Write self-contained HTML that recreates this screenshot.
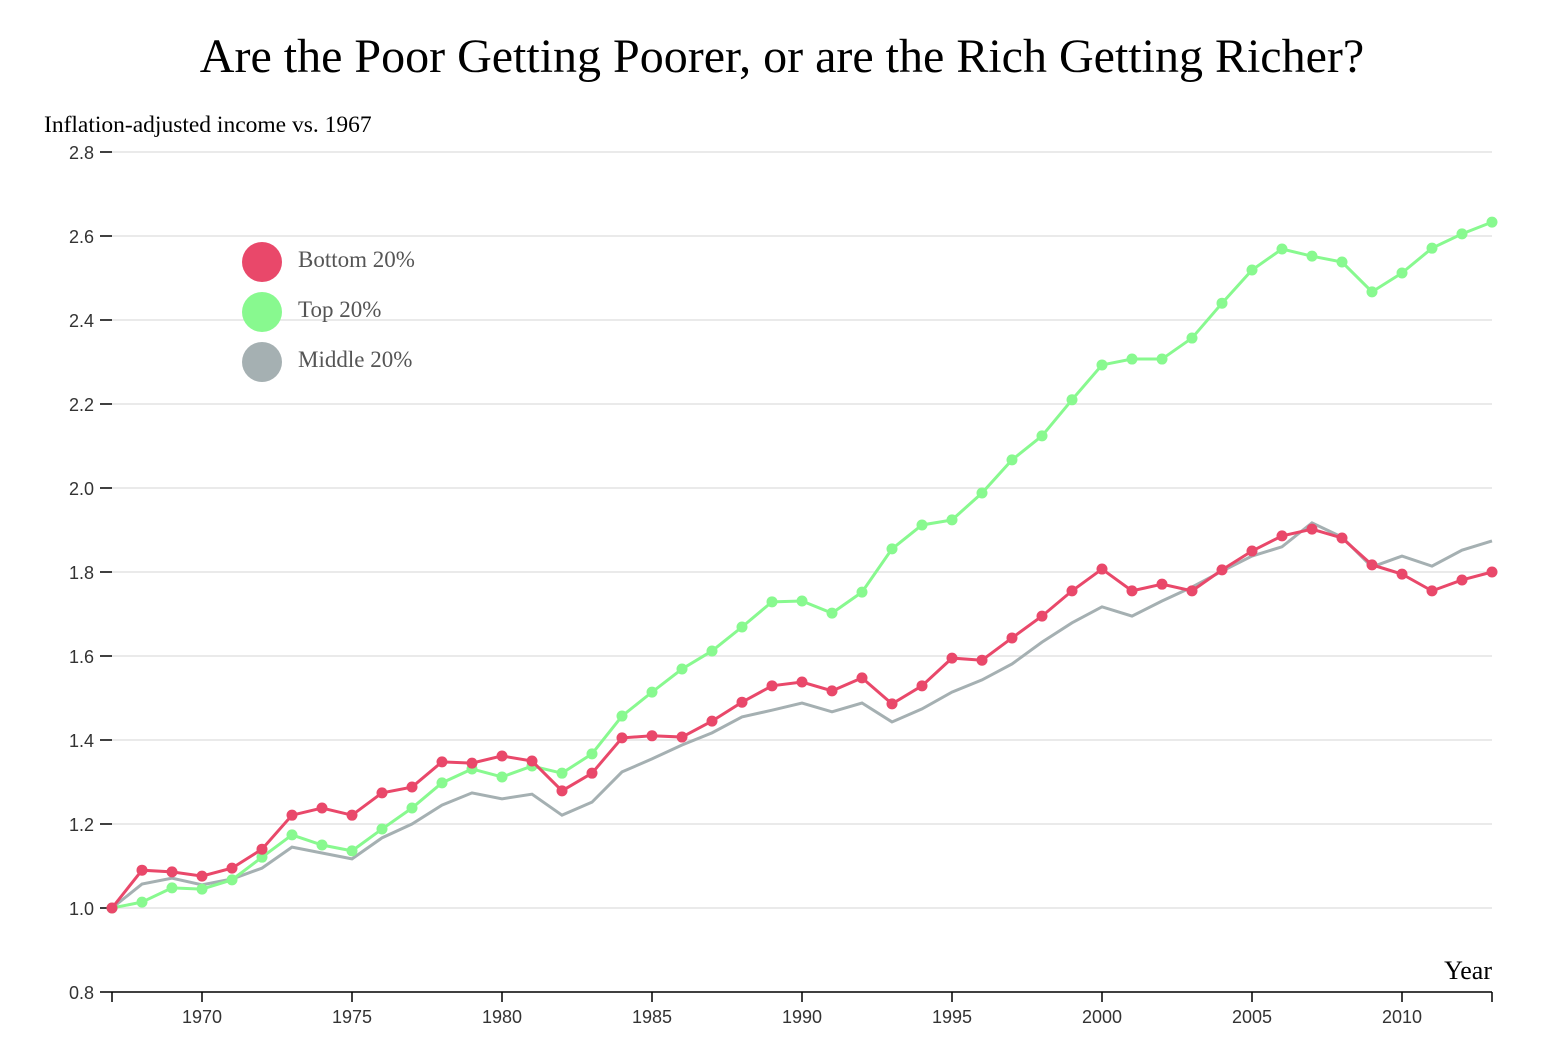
<!DOCTYPE html>
<html><head><meta charset="utf-8"><style>
body{margin:0;background:#fff;}
svg{display:block;font-family:"Liberation Sans",sans-serif;}
</style></head><body>
<svg id="chart" width="1564" height="1064">
<text x="782" y="72" text-anchor="middle" font-family="Liberation Serif,serif" font-size="48" fill="#000">Are the Poor Getting Poorer, or are the Rich Getting Richer?</text>
<text x="44" y="132" font-family="Liberation Serif,serif" font-size="23.5" fill="#000">Inflation-adjusted income vs. 1967</text>
<text x="1492" y="979" text-anchor="end" font-family="Liberation Serif,serif" font-size="26" fill="#000">Year</text>
<g id="grid"></g>
<g id="axes"></g>
<g id="series"></g>
<g id="legend"></g>
</svg>
<script>
const years=[];for(let y=1967;y<=2013;y++)years.push(y);
const bottomVals=[1.0,1.09,1.086,1.076,1.095,1.14,1.221,1.238,1.221,1.274,1.288,1.348,1.345,1.362,1.35,1.279,1.321,1.405,1.41,1.407,1.445,1.49,1.529,1.538,1.517,1.548,1.486,1.529,1.595,1.59,1.643,1.695,1.755,1.807,1.755,1.771,1.755,1.805,1.85,1.886,1.902,1.881,1.817,1.795,1.755,1.781,1.8];
const topVals=[1.0,1.014,1.048,1.045,1.067,1.121,1.174,1.15,1.136,1.188,1.238,1.298,1.331,1.312,1.338,1.321,1.367,1.457,1.514,1.569,1.612,1.669,1.729,1.731,1.702,1.752,1.855,1.912,1.924,1.988,2.067,2.124,2.21,2.293,2.307,2.307,2.357,2.44,2.519,2.569,2.552,2.538,2.467,2.512,2.571,2.605,2.633];
const middleVals=[1.0,1.057,1.071,1.055,1.069,1.095,1.145,1.131,1.117,1.167,1.2,1.245,1.274,1.26,1.271,1.221,1.252,1.324,1.355,1.388,1.417,1.455,1.471,1.488,1.467,1.488,1.443,1.474,1.514,1.543,1.581,1.633,1.679,1.717,1.695,1.731,1.764,1.802,1.838,1.86,1.917,1.883,1.812,1.838,1.814,1.852,1.874];
const yTicks=[0.8,1.0,1.2,1.4,1.6,1.8,2.0,2.2,2.4,2.6,2.8];
const xTicks=[1970,1975,1980,1985,1990,1995,2000,2005,2010];
const legendLabels=["Bottom 20%","Top 20%","Middle 20%"];
const NS="http://www.w3.org/2000/svg";
const X=y=>112+(y-1967)*30;
const Y=v=>908-(v-1)*420;
function mk(tag,attrs,parent){const e=document.createElementNS(NS,tag);for(const k in attrs)e.setAttribute(k,attrs[k]);parent.appendChild(e);return e;}
const grid=document.getElementById('grid'),axes=document.getElementById('axes'),series=document.getElementById('series'),legend=document.getElementById('legend');
yTicks.forEach(v=>{
  if(v>0.85){const g=mk('line',{x1:112,x2:1492,y1:Y(v),y2:Y(v),stroke:'#e3e3e3','stroke-width':1.5},grid);
  
  }
  const t=mk('line',{x1:100,x2:112,y1:Y(v),y2:Y(v),stroke:'#000','stroke-width':1.5},axes);
  
  
  const l=mk('text',{x:94,y:Y(v)+7,'text-anchor':'end','font-size':18,fill:'#333'},axes);
  
  
  l.textContent=v.toFixed(1);
});
const xa=mk('line',{x1:112,x2:1492,y1:992,y2:992,stroke:'#000','stroke-width':1.5},axes);


[1967].concat(xTicks,[2013]).forEach(y=>{
  const t=mk('line',{x1:X(y),x2:X(y),y1:992,y2:1002,stroke:'#000','stroke-width':1.5},axes);
  
  
});
xTicks.forEach(y=>{
  const l=mk('text',{x:X(y),y:1023,'text-anchor':'middle','font-size':18,fill:'#333'},axes);
  
  
  l.textContent=y;
});
function draw(vals,color,dots,name){
  const p=mk('path',{d:vals.map((v,i)=>(i?'L':'M')+X(years[i])+','+Y(v)).join(''),fill:'none',stroke:color,'stroke-width':3},series);
  
  
  if(dots)vals.forEach((v,i)=>{
    const c=mk('circle',{cx:X(years[i]),cy:Y(v),r:5.5,fill:color},series);
    
    
  });
}
draw(middleVals,'#a5b0b2',false,'middle-20');
draw(topVals,'#88f98f',true,'top-20');
draw(bottomVals,'#e9486a',true,'bottom-20');
const cols=['#e9486a','#88f98f','#a5b0b2'];
legendLabels.forEach((lab,i)=>{
  const c=mk('circle',{cx:262,cy:262+i*50,r:20,fill:cols[i]},legend);
  
  
  const t=mk('text',{x:298,y:267+i*50,'font-size':23,'font-family':'Liberation Serif,serif',fill:'#555'},legend);
  
  
  t.textContent=lab;
});
</script>
</body></html>
